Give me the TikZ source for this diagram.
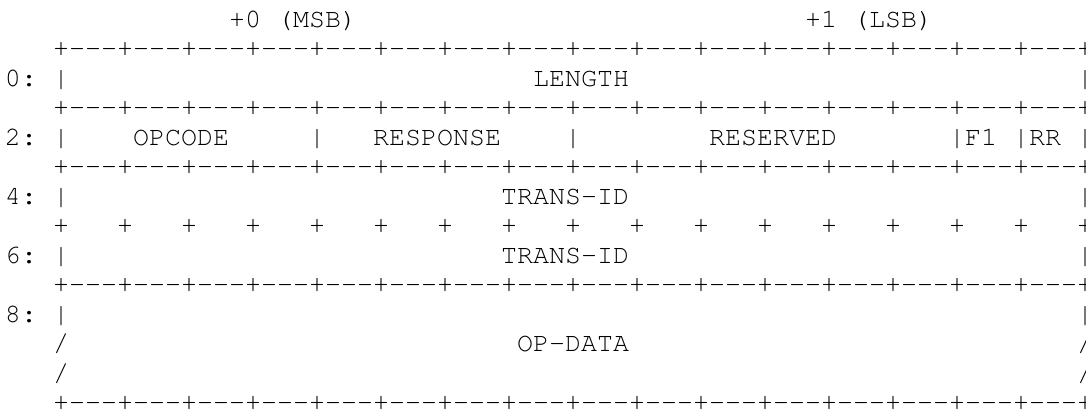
\documentclass[tikz,border=0pt]{standalone}
\usepackage[T1]{fontenc}
\newcommand\seg{+-{}-{}-{}}
\newcommand\brd{\seg\seg\seg\seg\seg\seg\seg\seg\seg\seg\seg\seg\seg\seg\seg\seg+}
\newcommand\asc[4]{\node[txt] (#1) at ({5+16*(#2)},{27+29.5*(#3)}) {#4};}
\begin{document}
\begin{tikzpicture}[x=1pt,y=-1pt,
  txt/.style={anchor=base west, inner sep=0pt, outer sep=0pt,
    font=\fontsize{26.67}{29.5}\usefont{T1}{pcr}{m}{n}}]
\useasboundingbox (0,0) rectangle (1086,410);
% header
\asc{msb}{14}{0}{+0 (MSB)}
\asc{lsb}{50}{0}{+1 (LSB)}
% row 0
\asc{b1}{3}{1}{\brd}
\asc{n0}{0}{2}{0:}
\asc{l0}{3}{2}{|}
\asc{length}{33}{2}{LENGTH}
\asc{r0}{67}{2}{|}
% row 2
\asc{b3}{3}{3}{\brd}
\asc{n2}{0}{4}{2:}
\asc{l2}{3}{4}{|}
\asc{opcode}{8}{4}{OPCODE}
\asc{s2a}{19}{4}{|}
\asc{response}{23}{4}{RESPONSE}
\asc{s2b}{35}{4}{|}
\asc{reserved}{44}{4}{RESERVED}
\asc{flags}{59}{4}{|F1 |RR |}
% row 4
\asc{b5}{3}{5}{\brd}
\asc{n4}{0}{6}{4:}
\asc{l4}{3}{6}{|}
\asc{transa}{31}{6}{TRANS-ID}
\asc{r4}{67}{6}{|}
\foreach \k in {0,...,16}{\asc{p\k}{3+4*\k}{7}{+}}
% row 6
\asc{n6}{0}{8}{6:}
\asc{l6}{3}{8}{|}
\asc{transb}{31}{8}{TRANS-ID}
\asc{r6}{67}{8}{|}
% row 8
\asc{b9}{3}{9}{\brd}
\asc{n8}{0}{10}{8:}
\asc{l8}{3}{10}{|}
\asc{r8}{67}{10}{|}
\asc{sl1}{3}{11}{/}
\asc{opdata}{32}{11}{OP-DATA}
\asc{sr1}{67}{11}{/}
\asc{sl2}{3}{12}{/}
\asc{sr2}{67}{12}{/}
\asc{b13}{3}{13}{\brd}
\end{tikzpicture}
\end{document}
